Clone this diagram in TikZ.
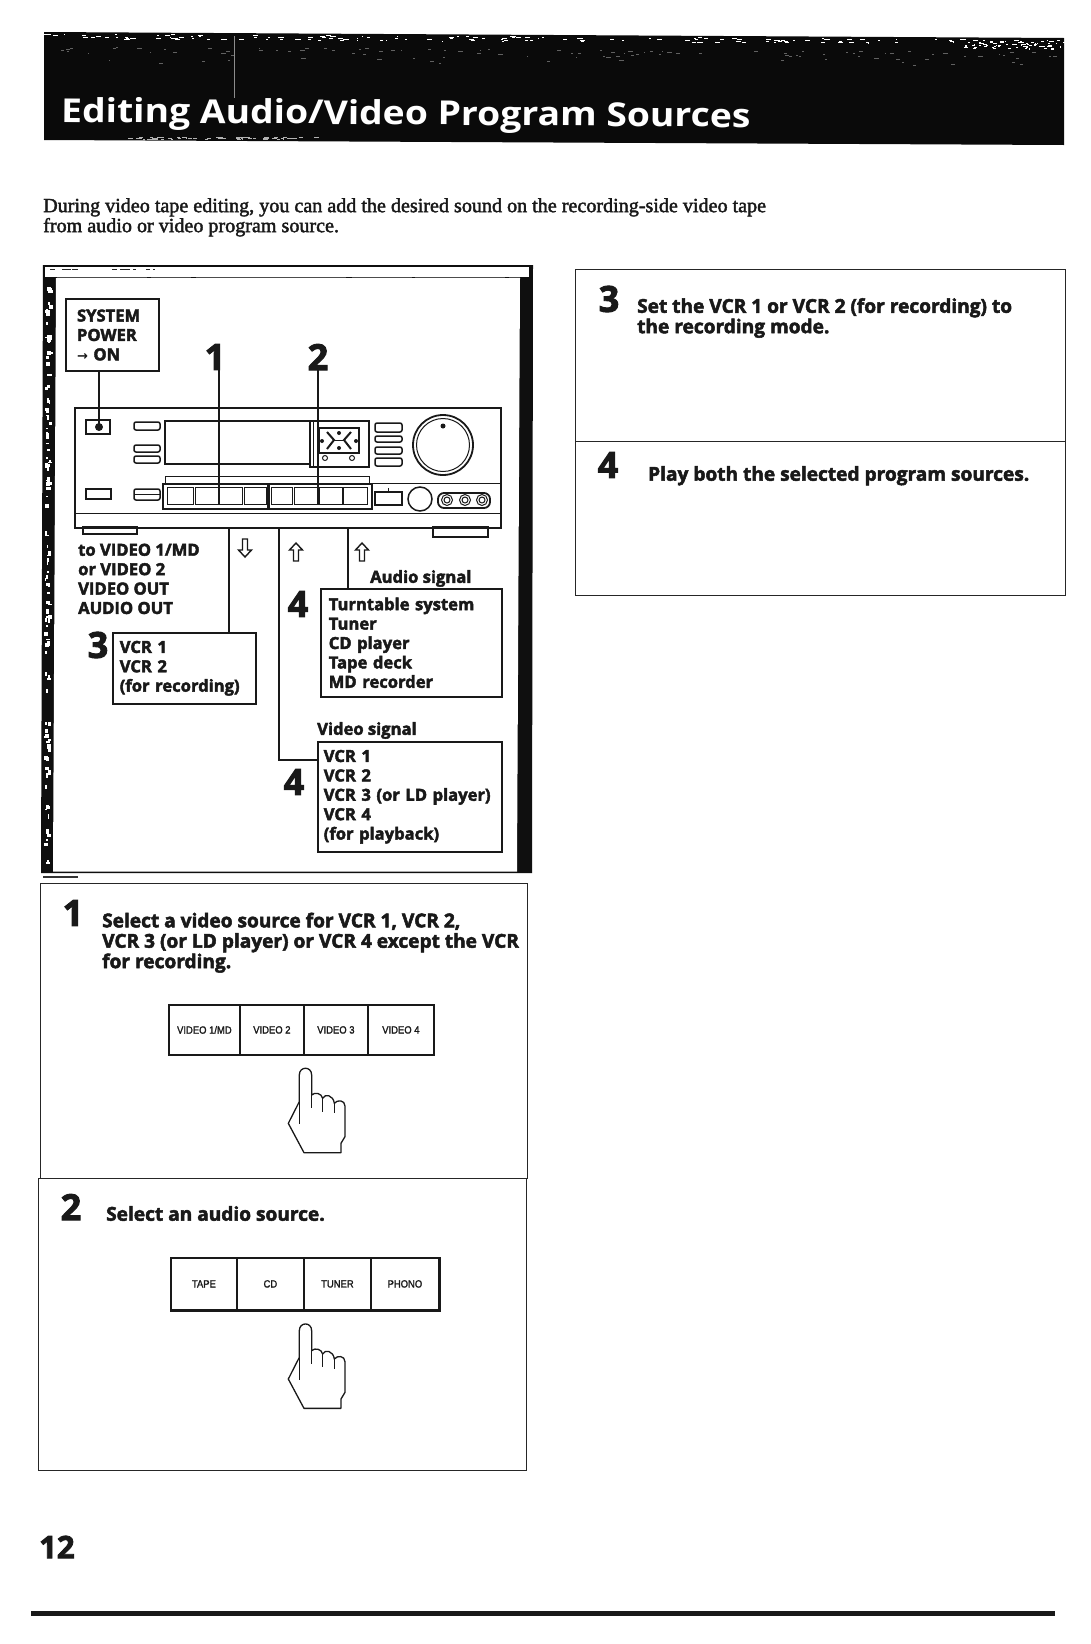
\documentclass[tikz,border=0pt]{standalone}
\usepackage{fontspec}
\setmainfont{Liberation Serif}
\newfontfamily\hv[BoldFeatures={FakeBold=2.6}]{Open Sans}
\newfontfamily\ttlf[BoldFeatures={FakeStretch=1.13}]{Open Sans}
\newfontfamily\serf[FakeBold=2]{Liberation Serif}
\newfontfamily\btnf[FakeBold=1.6,FakeStretch=0.9]{Liberation Sans}
\newfontfamily\djv{DejaVu Sans Bold}
\usetikzlibrary{calc}
\tikzset{
 ln/.style={line width=1.5pt,black!90},
 thn/.style={line width=1pt,black!90},
 pill/.style={line width=1.5pt,black!90,rounded corners=2pt},
 panel/.style={draw,line width=1.3pt,black!85,anchor=north west,inner sep=0pt},
 ctlbox/.style={draw,line width=1.5pt,black!90,anchor=north west,inner xsep=7pt,inner ysep=0pt,align=left,font=\lbl},
 lab/.style={anchor=north west,inner sep=0pt,align=left,font=\lbl,black!90},
 bignum/.style={inner sep=0pt,font=\hv\bfseries\fontsize{36}{36}\selectfont,black!90},
 body/.style={anchor=north west,inner sep=0pt,align=left,black!90,font=\hv\bfseries\fontsize{19.1}{20.4}\selectfont},
 btn/.style={draw,line width=1.8pt,black!90,minimum height=50pt,inner sep=0pt,anchor=north west,font=\btnf\fontsize{10.5}{11}\selectfont},
 hollow/.style={draw,line width=1.4pt,black!90,fill=white},
}
\newcommand{\lbl}{\hv\bfseries\fontsize{16.6}{19.4}\selectfont}
\newcommand{\handshape}[2]{%
 \begin{scope}[shift={(#1,#2)},x=0.3333pt,y=-0.3333pt,line width=1.3pt,black!90,line join=round]
  \draw (492,518) -- (445,430) -- (478,365) -- (478,285) .. controls (478,258) and (515,258) .. (515,285)
   -- (515,345) .. controls (525,335) and (545,340) .. (548,355) .. controls (555,340) and (580,345) .. (583,370)
   .. controls (592,358) and (615,360) .. (615,378) -- (615,470) -- (603,490) -- (603,518) -- cycle;
  \draw (478,365) -- (478,432) (515,345) -- (515,385) (548,355) -- (548,395) (583,370) -- (583,400);
 \end{scope}}
\newcommand{\arrowup}[2]{\draw[hollow,shift={(#1,#2)},line join=miter] (0,-9) -- (6.5,-2) -- (2.5,-2) -- (2.5,9) -- (-2.5,9) -- (-2.5,-2) -- (-6.5,-2) -- cycle;}
\newcommand{\arrowdn}[2]{\draw[hollow,shift={(#1,#2)},line join=miter] (0,9) -- (6.5,2) -- (2.5,2) -- (2.5,-9) -- (-2.5,-9) -- (-2.5,2) -- (-6.5,2) -- cycle;}
\begin{document}
\begin{tikzpicture}[x=1pt,y=-1pt]
\useasboundingbox (0,0) rectangle (1091,1644);
\fill[white] (0,0) rectangle (1091,1644);
% header band
\fill[black!96] (44,32) -- (1064,38) -- (1064,145) -- (44,140) -- cycle;
\pgfmathsetseed{7}
\foreach \i in {1,...,150}{
  \pgfmathsetmacro{\xa}{44+1020*rnd}
  \pgfmathsetmacro{\ya}{33.5+(\xa-44)*0.0059+5*rnd}
  \pgfmathsetmacro{\wa}{1+5*rnd}
  \fill[white] (\xa,\ya) rectangle ++(\wa,0.9);
}
\foreach \i in {1,...,110}{
  \pgfmathsetmacro{\xa}{60+1000*rnd}
  \pgfmathsetmacro{\ya}{46+(\xa-44)*0.0059+20*rnd*rnd}
  \pgfmathsetmacro{\wa}{1+4*rnd}
  \fill[black!62] (\xa,\ya) rectangle ++(\wa,0.9);
}
\foreach \i in {1,...,60}{
  \pgfmathsetmacro{\xa}{960+100*rnd}
  \pgfmathsetmacro{\ya}{40+9*rnd}
  \pgfmathsetmacro{\wa}{1+3*rnd}
  \fill[white] (\xa,\ya) rectangle ++(\wa,1.2);
}
\foreach \i in {1,...,70}{
  \pgfmathsetmacro{\xa}{125+190*rnd}
  \pgfmathsetmacro{\ya}{136.5+2.5*rnd}
  \pgfmathsetmacro{\wa}{1+4*rnd}
  \fill[black!30] (\xa,\ya) rectangle ++(\wa,0.9);
}
\draw[black!45,line width=1pt] (234,36) -- (234,98);
\node[anchor=base west,inner sep=0pt,text=white,rotate=-0.45,font=\ttlf\bfseries\fontsize{33}{33}\selectfont] (title) at (61,122) {Editing Audio/Video Program Sources};
% intro
\node[anchor=north west,inner sep=0pt,align=left,font=\serf\fontsize{20.1}{20}\selectfont,black!90] (intro) at (43,198)
 {During video tape editing, you can add the desired sound on the recording-side video tape\\from audio or video program source.};
% main illustration frame
\fill[black!94] (43,265) -- (533,265) -- (532,873) -- (41,873) -- cycle;
\fill[white] (56,278) -- (520,278) -- (517,871.5) -- (53,871.5) -- cycle;
\fill[white] (45,267) rectangle (529,276.5);
\draw[black!70,line width=0.8pt,dash pattern=on 90pt off 4pt on 40pt off 5pt on 150pt off 6pt on 60pt off 3pt] (57,277) -- (520,277);
\pgfmathsetseed{21}
\foreach \i in {1,...,115}{
  \pgfmathsetmacro{\ya}{280+585*rnd}
  \pgfmathsetmacro{\xa}{45.5-(\ya-280)*0.0034+4*rnd}
  \pgfmathsetmacro{\ha}{1+4*rnd}
  \pgfmathsetmacro{\wa}{1.5+3*rnd}
  \fill[white] (\xa,\ya) rectangle ++(\wa,\ha);
}
\foreach \xa/\wa in {50/5,62/9,72/6,112/5,120/10,133/3,146/4,153/2}{\fill[black!85] (\xa,268.5) rectangle ++(\wa,1.5);}
\draw[black!80,line width=1.2pt] (43,877) -- (78,877);
% system power
\node[ctlbox,minimum width=93pt,minimum height=72pt,text width=71pt,inner xsep=11pt,line width=2pt] (sys) at (65,298) {SYSTEM\\POWER\\{\djv\fontsize{13}{13}\selectfont →} ON};
% receiver
\node[draw,line width=2pt,black!90,anchor=north west,minimum width=426pt,minimum height=120pt,inner sep=0pt] (recv) at (74,407) {};
\draw[thn] (74,513) -- (500,513) (373,483) -- (500,483);
\draw[ln] (83,527) rectangle (137,534) (433,527) rectangle (488,537);
\coordinate (pw) at (99,427);
\draw[ln] (86,420) rectangle (110,434);
\fill[black!90] (pw) circle (4);
\draw[line width=1.5pt,black!90] (sys.south -| pw) -- (pw);
\draw[pill] (134,422) rectangle (160,430) (134,445) rectangle (160,452) (134,456) rectangle (160,463);
\draw[ln] (86,489) rectangle (111,499);
\draw[pill] (134,489) rectangle (160,500);
\draw[thn] (134,494) -- (160,494);
\draw[line width=1.8pt,black!90] (165,421) rectangle (310,464) (310,421) rectangle (369,467);
\draw[thn] (313,421) -- (313,467);
\draw[line width=2.2pt,black!90] (319,428) rectangle (359,453);
\draw[line width=2pt,black!90] (327,432) -- (334,440) -- (327,449) (351,432) -- (344,440) -- (351,449);
\draw[thn] (334,440) -- (344,440);
\fill[black!90] (322,441) circle (2) (356,441) circle (2) (339,433) circle (2) (339,448) circle (2);
\draw[thn] (325,458) circle (2.5) (352,458) circle (2.5);
\draw[pill] (375,423) rectangle (402,432) (375,436) rectangle (402,442) (375,447) rectangle (402,454) (375,458) rectangle (402,466);
\draw[line width=1.8pt,black!90] (443,445) circle (30);
\draw[thn] (443,445) circle (26.5);
\fill[black!90] (443,426) circle (2.5);
\draw[thn] (165,476) rectangle (369,484);
\draw[line width=2.2pt,black!90] (163,484) rectangle (372,509);
\fill[black!90] (267,485) rectangle (270,509);
\foreach \xa/\xb in {167/193,195/218,218/242,244/266,271/292,294/317,319/342,343/367}{
  \draw[thn] (\xa,487) rectangle (\xb,504);
}
\draw[ln] (375,492) rectangle (402,505);
\draw[thn] (388,492) -- (388,488);
\draw[ln] (420,499) circle (12);
\draw[line width=1.8pt,black!90,rounded corners=6pt] (438,493) rectangle (490,508);
\foreach \xa in {447,465,482}{\draw[thn] (\xa,500) circle (5.5) (\xa,500) circle (3);}
% step numbers and leaders
\node[bignum] (n1) at (215,357) {1};
\node[bignum] (n2) at (318,357) {2};
\coordinate (l1) at (219,505);
\coordinate (l2) at (318,505);
\draw[ln] (l1 |- n1.south) -- (l1);
\draw[ln] (n2.south -| l2) -- (l2);
% boxes
\node[lab] (toV) at (78,543.5) {to VIDEO 1/MD\\or VIDEO 2\\VIDEO OUT\\AUDIO OUT};
\node[bignum] (n3) at (98,645) {3};
\node[ctlbox,minimum width=143pt,minimum height=71pt,text width=129pt] (rec) at (112,632) {VCR 1\\VCR 2\\(for recording)};
\node[lab] (audiol) at (370,570) {Audio signal};
\node[bignum] (n4a) at (298,604) {4};
\node[ctlbox,minimum width=181pt,minimum height=108pt,text width=165pt,inner xsep=8pt] (audio) at (320,588) {Turntable system\\Tuner\\CD player\\Tape deck\\MD recorder};
\node[lab] (videol) at (317,722) {Video signal};
\node[bignum] (n4b) at (294,782) {4};
\node[ctlbox,minimum width=184pt,minimum height=110pt,text width=172pt,inner xsep=6pt] (video) at (317,741) {VCR 1\\VCR 2\\VCR 3 (or LD player)\\VCR 4\\(for playback)};
% connectors
\coordinate (c1) at (229,527);
\coordinate (c2) at (279,527);
\coordinate (c3) at (348,527);
\coordinate (c2b) at (279,760);
\draw[line width=1.7pt,black!90] (c1) -- (rec.north -| c1);
\draw[line width=1.7pt,black!90] (c2) -- (c2b) -- (video.west |- c2b);
\draw[line width=1.7pt,black!90] (c3) -- (audio.north -| c3);
\arrowdn{245}{548}
\arrowup{296}{552}
\arrowup{362}{552}
% panels
\node[panel,minimum width=487pt,minimum height=295pt] (p1) at (40,883) {};
\node[panel,minimum width=488pt,minimum height=292pt] (p2) at (38,1178) {};
\node[panel,minimum width=490pt,minimum height=172pt] (p3) at (575,269) {};
\node[panel,minimum width=490pt,minimum height=154pt] (p4) at (575,441) {};
% step 1
\node[bignum] (s1) at (73,913) {1};
\node[body] (t1) at (102,912.5) {Select a video source for VCR 1, VCR 2,\\VCR 3 (or LD player) or VCR 4 except the VCR\\for recording.};
\node[btn,minimum width=71pt] (b1) at (168,1004) {VIDEO 1/MD};
\node[btn,minimum width=64pt] (b2) at (239,1004) {VIDEO 2};
\node[btn,minimum width=64pt] (b3) at (303,1004) {VIDEO 3};
\node[btn,minimum width=66pt] (b4) at (367,1004) {VIDEO 4};
\handshape{140}{980}
% step 2
\node[bignum] (s2) at (71,1207) {2};
\node[body] (t2) at (106,1206) {Select an audio source.};
\node[btn,minimum width=66pt,minimum height=52pt] (c1b) at (170,1257) {TAPE};
\node[btn,minimum width=67pt,minimum height=52pt] (c2c) at (236,1257) {CD};
\node[btn,minimum width=67pt,minimum height=52pt] (c3c) at (303,1257) {TUNER};
\node[btn,minimum width=68pt,minimum height=52pt] (c4c) at (370,1257) {PHONO};
\draw[line width=2.5pt,black!90] (c1b.south west) -- (c4c.south east) -- (c4c.north east);
\handshape{140}{1235.7}
% steps 3, 4
\node[bignum] (s3) at (609,299) {3};
\node[body] (t3) at (637,298) {Set the VCR 1 or VCR 2 (for recording) to\\the recording mode.};
\node[bignum] (s4) at (608,465) {4};
\node[body] (t4) at (648,466) {Play both the selected program sources.};
% page number and rule
\node[anchor=west,inner sep=0pt,font=\hv\bfseries\fontsize{31}{31}\selectfont,black!90] (pg) at (39,1547) {12};
\fill[black!90] (31,1610.5) rectangle (1055,1615.5);
\end{tikzpicture}
\end{document}
